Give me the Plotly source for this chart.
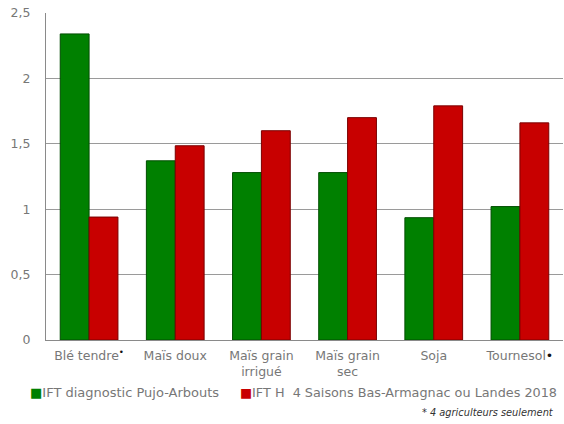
import plotly.graph_objects as go

# Crops and herbicide treatment frequency indices (IFT)
cultures = ["Blé tendre<span style='color:#111'><sup>•</sup></span>", "Maïs doux",
            "Maïs grain<br>irrigué", "Maïs grain<br>sec", "Soja",
            "Tournesol<span style='color:#111'>•</span>"]
ift_pujo = [2.34, 1.37, 1.28, 1.28, 0.935, 1.02]
ift_h_ref = [0.94, 1.485, 1.60, 1.70, 1.79, 1.66]

serie_pujo = "IFT diagnostic Pujo-Arbouts"
serie_ref = "IFT H\u00a0 4 Saisons Bas-Armagnac ou Landes 2018"
note = "* 4 agriculteurs seulement"

VERT = "#008000"
ROUGE = "#C80000"
GRIS_TEXTE = "#777777"
FONT = "DejaVu Sans, Verdana, sans-serif"
TAILLE = 12.5

fig = go.Figure()
fig.add_trace(go.Bar(x=cultures, y=ift_pujo, name=serie_pujo,
                     marker=dict(color=VERT, line=dict(color="#004d00", width=1))))
fig.add_trace(go.Bar(x=cultures, y=ift_h_ref, name=serie_ref,
                     marker=dict(color=ROUGE, line=dict(color="#7a0000", width=1))))

fig.update_layout(
    width=564, height=424,
    margin=dict(l=46, r=1, t=13, b=84),
    paper_bgcolor="white", plot_bgcolor="white",
    barmode="group", bargap=0.33, bargroupgap=0,
    separators=", ",
    showlegend=False,
    font=dict(family=FONT, size=TAILLE, color=GRIS_TEXTE),
)
fig.update_yaxes(range=[0, 2.5], dtick=0.5, showgrid=True, gridcolor="#9a9a9a",
                 gridwidth=1, showline=True, linecolor="#8a8a8a", linewidth=1,
                 zeroline=False, ticks="", ticklabelstandoff=12,
                 tickfont=dict(family=FONT, size=TAILLE, color=GRIS_TEXTE))
fig.update_xaxes(showline=True, linecolor="#8a8a8a", linewidth=1, ticks="",
                 ticklabelstandoff=4,
                 tickfont=dict(family=FONT, size=TAILLE, color=GRIS_TEXTE))

# Legend drawn as a single line under the axis
fig.add_annotation(xref="paper", yref="paper", x=-18 / 517, y=-52 / 327,
                   xanchor="left", yanchor="middle", showarrow=False,
                   text=f"<span style='color:{VERT}'>■</span>{serie_pujo}",
                   font=dict(family=FONT, size=13, color=GRIS_TEXTE))
fig.add_annotation(xref="paper", yref="paper", x=(238 - 46) / 517, y=-52 / 327,
                   xanchor="left", yanchor="middle", showarrow=False,
                   text=f"<span style='color:{ROUGE}'>■</span>{serie_ref}",
                   font=dict(family=FONT, size=12.8, color=GRIS_TEXTE))
fig.add_annotation(xref="paper", yref="paper", x=(420 - 46) / 517, y=-72 / 327,
                   xanchor="left", yanchor="middle", showarrow=False,
                   text=f"<i>{note}</i>",
                   font=dict(family=FONT, size=9.8, color="#333333"))

fig.write_html("out.html")
